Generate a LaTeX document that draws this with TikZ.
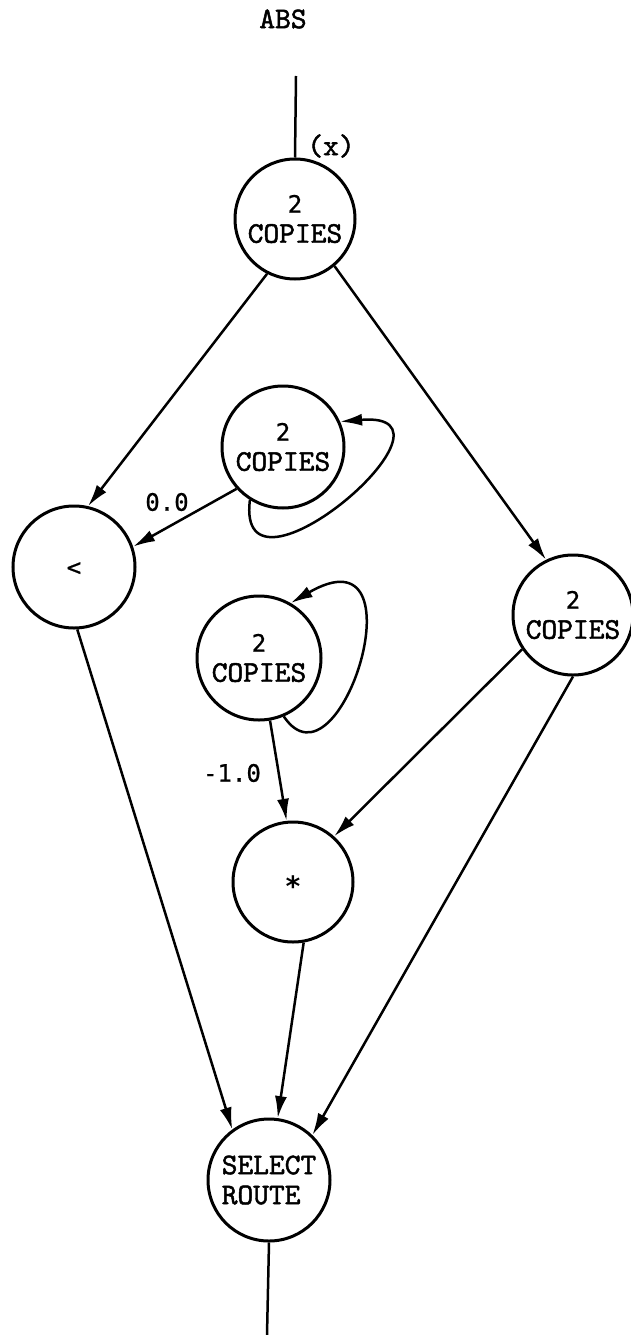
\documentclass[tikz,border=0pt]{standalone}
\usepackage{fontspec}
\newfontfamily\twmono{lmmono10-regular.otf}[FakeBold=1.6]
\newfontfamily\gothicmono{DejaVu Sans Mono}[FakeBold=0.8]
\newfontfamily\gothicmonob{DejaVu Sans Mono Bold}
\usetikzlibrary{arrows.meta}
\newcommand\twfont{\fontsize{30}{30}\selectfont\twmono}
\newcommand\dgfont{\fontsize{24}{30}\selectfont\gothicmono}
\begin{document}
\begin{tikzpicture}[x=1pt,y=-1pt,
  blob/.style={circle, draw, line width=3pt, inner sep=0pt, minimum size=#1, font=\twfont, align=center},
  conn/.style={line width=2.5pt},
  arr/.style={line width=2.5pt, -{Latex[length=22pt,width=12pt]}},
  lbl/.style={inner sep=0pt, font=\twfont},
  dlbl/.style={inner sep=0pt, font=\dgfont}]
\useasboundingbox (0,0) rectangle (631,1335);
% nodes
\node[lbl] (abs) at (283,19) {ABS};
\node[lbl] (xin) at (331,146) {(x)};
\node[blob=120] (c1) at (295,219) {{\dgfont 2}\\COPIES};
\node[blob=122] (clt) at (74,567) {\dgfont\raisebox{-0.36em}[0pt][0pt]{<}};
\node[blob=122] (cl1) at (283,447) {{\dgfont 2}\\COPIES};
\node[blob=120] (cr) at (573,615) {{\dgfont 2}\\COPIES};
\node[blob=124] (cl2) at (259,658) {{\dgfont 2}\\COPIES};
\node[blob=120] (star) at (293,882) {\fontsize{28}{28}\selectfont\gothicmonob\raisebox{-0.5em}[0pt][0pt]{*}};
\node[blob=122, align=left] (sel) at (269,1180) {SELECT\\ROUTE};
\node[dlbl] (zero) at (167,502) {0.0};
\node[dlbl] (mone) at (232,773) {-1.0};
\coordinate (top) at (296,76);
\coordinate (bot) at (267,1335);
% connectors
\draw[conn] (top) -- (c1.north);
\draw[arr] (c1.-117) -- (clt.77);
\draw[arr] (c1.-50) -- (cr.116);
\draw[arr] (cl1.-138) -- (clt.19);
\draw[arr] (cl1.-122) .. controls (235,620) and (480,410) .. (cl1.24);
\draw[arr] (cl2.-67) .. controls (340,800) and (425,525) .. (cl2.60);
\draw[arr] (cl2.-80) -- (star.96);
\draw[arr] (cr.-146) -- (star.48);
\draw[arr] (cr.-90) -- (sel.46);
\draw[arr] (clt.-87) -- (sel.126);
\draw[arr] (star.-80) -- (sel.82);
\draw[conn] (sel.south) -- (bot);
\end{tikzpicture}
\end{document}
